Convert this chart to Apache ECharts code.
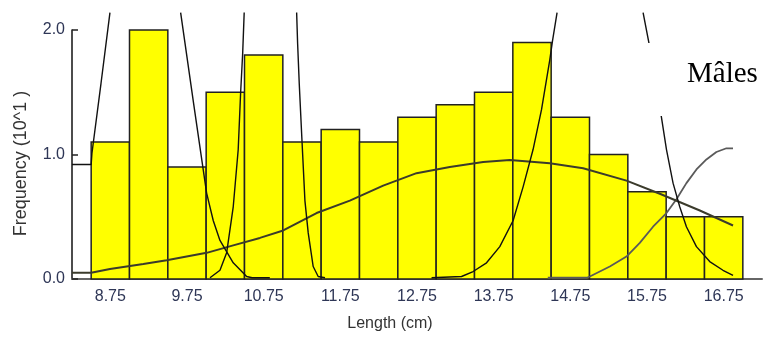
<!DOCTYPE html>
<html><head><meta charset="utf-8">
<script src="https://cdn.jsdelivr.net/npm/echarts@6/dist/echarts.min.js"></script>
<style>html,body{margin:0;padding:0;background:#fff}#c{width:763px;height:338px}</style>
</head><body><div id="c"></div>
<script>
// Histogram bins (cm) and frequencies (x10)
const binStart = [8.5, 9.0, 9.5, 10.0, 10.5, 11.0, 11.5, 12.0, 12.5, 13.0, 13.5, 14.0, 14.5, 15.0, 15.5, 16.0, 16.5];
const binEnd   = [9.0, 9.5, 10.0, 10.5, 11.0, 11.5, 12.0, 12.5, 13.0, 13.5, 14.0, 14.5, 15.0, 15.5, 16.0, 16.5, 17.0];
const frequency = [1.1, 2.0, 0.9, 1.5, 1.8, 1.1, 1.2, 1.1, 1.3, 1.4, 1.5, 1.9, 1.3, 1.0, 0.7, 0.5, 0.5];
const xTickLabels = [8.75, 9.75, 10.75, 11.75, 12.75, 13.75, 14.75, 15.75, 16.75];
const yTickLabels = [0, 1, 2];

// Fitted component curves ('-' = off-chart gap)
const compA = [[8.25,0.92],[8.5,0.92],[8.51,1.01],[8.628,1.57],[8.745,2.14],[9.2,'-'],
  [9.667,2.14],[9.836,1.41],[10.006,0.69],[10.092,0.47],[10.18,0.31],[10.353,0.13],[10.528,0.02],[10.6,0.01],[10.83,0.01]];
const compB = [[10.05,0.01],[10.071,0.02],[10.18,0.07],[10.267,0.21],[10.353,0.58],[10.418,1.04],[10.449,1.49],[10.476,1.81],[10.496,2.14],[10.8,'-'],
  [11.18,2.14],[11.193,1.89],[11.214,1.57],[11.245,1.17],[11.288,0.63],[11.331,0.37],[11.396,0.10],[11.461,0.02],[11.55,0.01]];
const compC = [[12.94,0.01],[13.331,0.02],[13.482,0.06],[13.657,0.13],[13.83,0.26],[14.004,0.47],[14.134,0.74],[14.264,1.04],[14.374,1.36],[14.482,1.76],[14.517,1.91],[14.577,2.14],[15.1,'-'],
  [15.699,2.14],[15.777,1.89],[15.938,1.30],[16.004,1.04],[16.09,0.77],[16.177,0.58],[16.264,0.42],[16.395,0.26],[16.568,0.14],[16.741,0.07],[16.872,0.03]];
const compD = [[14.456,0.01],[14.964,0.01],[15.004,0.02],[15.265,0.10],[15.482,0.18],[15.656,0.29],[15.829,0.42],[16.004,0.53],[16.134,0.64],[16.264,0.77],[16.395,0.88],[16.525,0.96],[16.655,1.02],[16.786,1.05],[16.872,1.05]];
const compE = [[8.25,0.05],[8.5,0.05],[8.745,0.08],[9.18,0.12],[9.485,0.15],[10.006,0.21],[10.353,0.27],[10.701,0.33],[11.005,0.39],[11.44,0.53],[11.874,0.63],[12.309,0.75],[12.744,0.85],[13.178,0.90],[13.613,0.94],[13.961,0.955],[14.482,0.93],[14.917,0.89],[15.482,0.79],[15.917,0.685],[16.439,0.55],[16.872,0.43]];

const chart = echarts.init(document.getElementById('c'), null, {renderer: 'canvas'});
const labelColor = '#2e3656';
const lineSeries = (data, color, width, z) => ({
  type: 'line', data: data, showSymbol: false, symbol: 'none', clip: false, z: z,
  connectNulls: false, smooth: false,
  lineStyle: {color: color, width: width}, silent: true
});
chart.setOption({
  animation: false,
  backgroundColor: '#fff',
  grid: {left: 72, right: 1, top: 30, bottom: 59, containLabel: false},
  xAxis: {
    type: 'value', min: 8.25, max: 17.25,
    name: 'Length (cm)', nameLocation: 'middle', nameGap: 37,
    nameTextStyle: {fontFamily: 'Liberation Sans', fontSize: 16, color: '#333', padding: [0, 54, 0, 0]},
    axisLine: {show: true, lineStyle: {color: '#666', width: 2}},
    axisTick: {show: true, inside: true, length: 5, customValues: xTickLabels, lineStyle: {color: '#222', width: 1}},
    axisLabel: {customValues: xTickLabels, formatter: v => v.toFixed(2), fontFamily: 'Liberation Sans', fontSize: 16, color: labelColor, margin: 10},
    splitLine: {show: false}
  },
  yAxis: {
    type: 'value', min: 0, max: 2,
    name: 'Frequency (10^1 )', nameLocation: 'middle', nameGap: 42, nameRotate: 90,
    nameTextStyle: {fontFamily: 'Liberation Sans', fontSize: 18, color: '#333', padding: [0, 18, 0, 0]},
    axisLine: {show: true, lineStyle: {color: '#111', width: 1.5}},
    axisTick: {show: true, inside: true, length: 6, customValues: yTickLabels, lineStyle: {color: '#222', width: 1.5}},
    axisLabel: {customValues: yTickLabels, formatter: v => v.toFixed(1), fontFamily: 'Liberation Sans', fontSize: 16, color: labelColor, margin: 7},
    splitLine: {show: false}
  },
  series: [
    {
      type: 'custom', z: 2, silent: true,
      data: frequency.map((f, i) => [binStart[i], binEnd[i], f]),
      encode: {x: [0, 1], y: 2},
      renderItem: function (params, api) {
        const p0 = api.coord([api.value(0), api.value(2)]);
        const p1 = api.coord([api.value(1), 0]);
        return {
          type: 'rect',
          shape: {x: p0[0], y: p0[1], width: p1[0] - p0[0], height: p1[1] - p0[1]},
          style: {fill: '#ffff00', stroke: '#222', lineWidth: 1.5}
        };
      }
    },
    lineSeries(compE, '#3b3b2c', 2, 5),
    lineSeries(compD, '#5a5a5a', 1.8, 4),
    lineSeries(compA, '#111', 1.4, 6),
    lineSeries(compB, '#111', 1.4, 6),
    lineSeries(compC, '#111', 1.4, 6)
  ],
  graphic: [
    {type: 'rect', z: 100, shape: {x: 642, y: 43, width: 121, height: 73}, style: {fill: '#fff'}},
    {type: 'text', z: 101, style: {text: 'Mâles', x: 687, y: 74, fontFamily: 'Liberation Serif', fontSize: 29, fill: '#000', textVerticalAlign: 'middle'}}
  ]
});
</script>
</body></html>
